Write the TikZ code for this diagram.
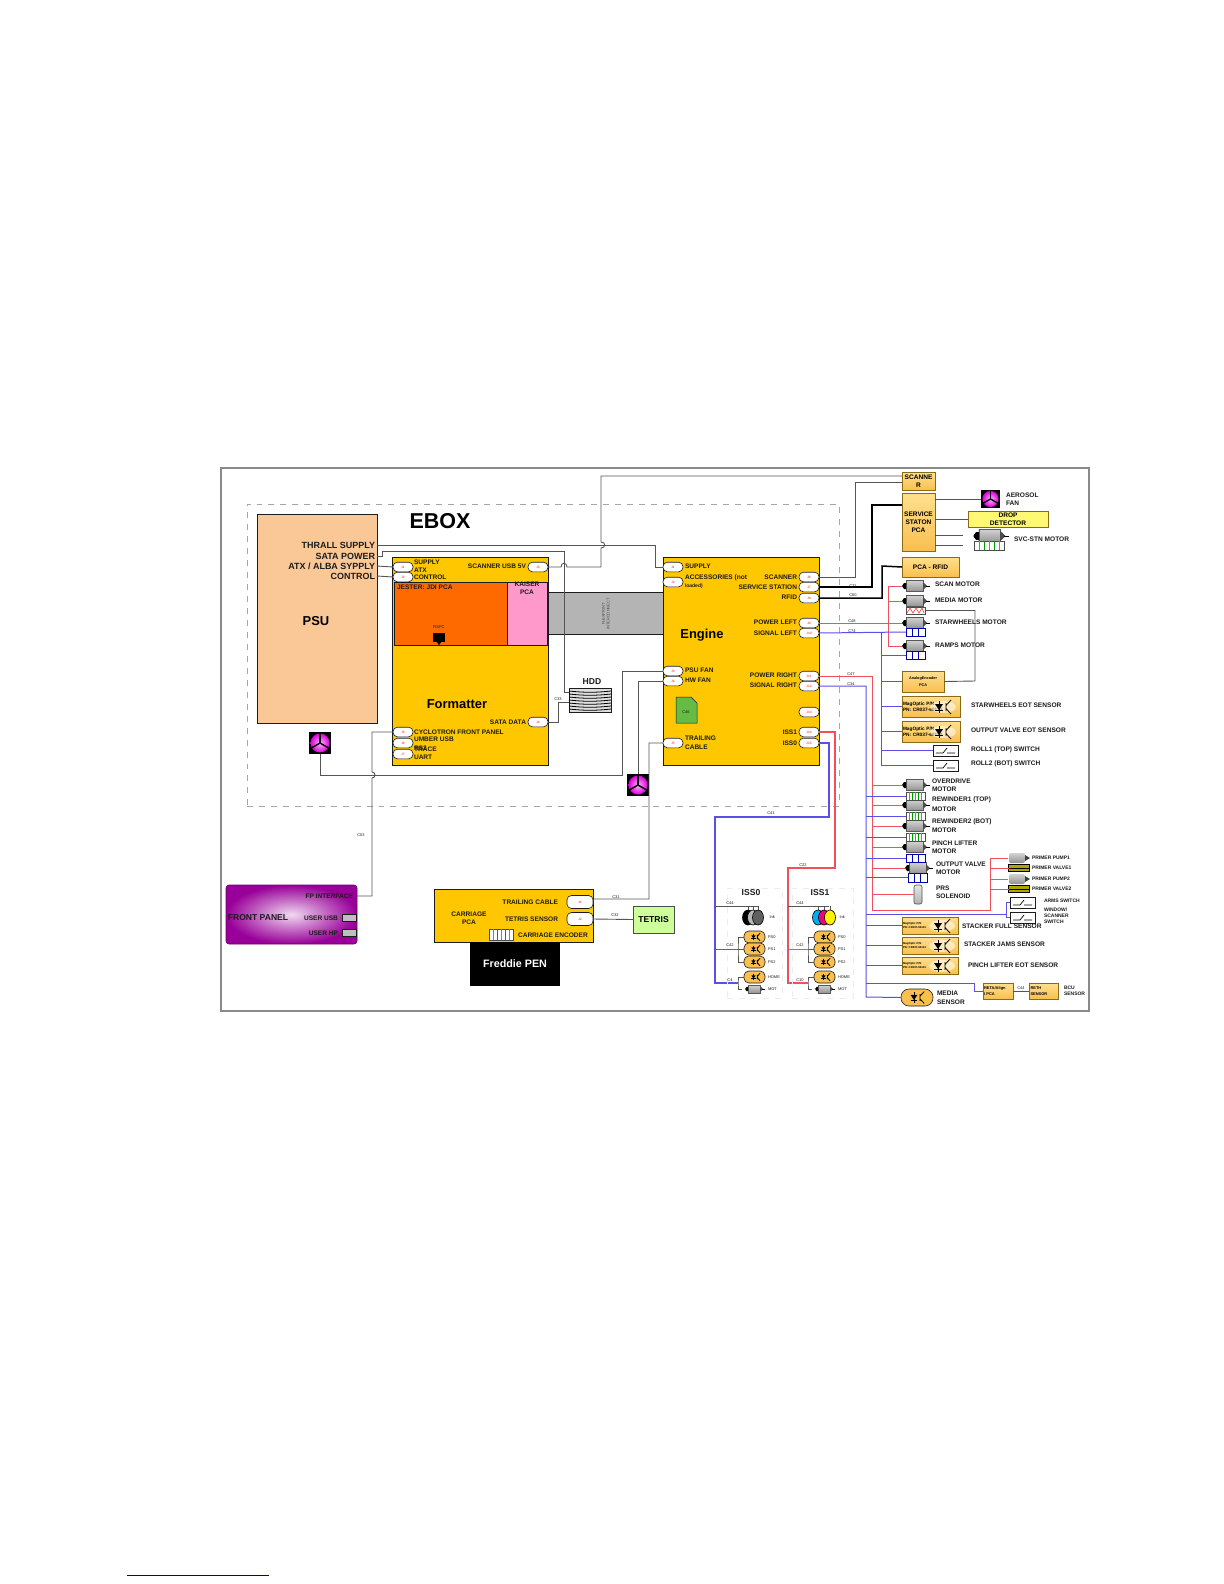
\documentclass[tikz,border=0pt]{standalone}
\usepackage{fontspec}
\setmainfont{Liberation Sans}
\definecolor{psupeach}{HTML}{FAC796}
\definecolor{pcayellow}{HTML}{FFC700}
\definecolor{jesterorange}{HTML}{FF6A00}
\definecolor{kaiserpink}{HTML}{FF99CC}
\definecolor{bandgray}{HTML}{B4B4B4}
\definecolor{framegray}{HTML}{8A8A8A}
\definecolor{wiregray}{HTML}{555555}
\definecolor{redwirec}{HTML}{F0505A}
\definecolor{bluewirec}{HTML}{5A50E6}
\definecolor{fppurple}{HTML}{990099}
\definecolor{tetrisgreen}{HTML}{CCFF99}
\definecolor{docgreen}{HTML}{66BB44}
\definecolor{boxrim}{HTML}{8C6A14}
\definecolor{glowtop}{HTML}{FFE08F}
\definecolor{glowbot}{HTML}{F9BF4F}
\definecolor{inkc}{HTML}{1C1C1C}
% box given by its corners in pixels
\newcommand{\pxbox}[7]{\node[#1, minimum width={(#5-#3)*0.5bp}, minimum height={(#6-#4)*0.5bp}] (#2) at ({(#3+#5)/2},{(#4+#6)/2}) {#7};}
\newcommand{\motoricon}[4][1]{%
  \begin{scope}[shift={(#3,#4)}, scale=#1]
    \node[minimum width=13bp, minimum height=6bp] (#2) at (0,0) {};
    \shade[top color=gray!35, bottom color=gray!85, draw=gray!70!black, line width=0.25bp] (-9,-5.5) rectangle (8,5.5);
    \fill[black] (-13,0) -- (-11,-3) -- (-9,-3) -- (-9,3) -- (-11,3) -- cycle;
    \fill[gray!60!black] (8,-4) -- (12,0) -- (8,4) -- cycle;
    \draw[line width=0.4bp] (11,0) -- (15,0);
  \end{scope}}
\newcommand{\encoderblue}[5]{%
  \pxbox{encbox, draw=blue!70!black}{#1}{#2}{#3}{#4}{#5}{}
  \foreach \k in {1,2} \draw[blue!70!black, line width=0.5bp] ({#2+\k*(#4-#2)/3},#3) -- ({#2+\k*(#4-#2)/3},#5);}
\newcommand{\encoderbar}[5]{%
  \pxbox{encbox, draw=gray!60!black}{#1}{#2}{#3}{#4}{#5}{}
  \foreach \k/\c in {1/red!70,2/green!60!black,3/red!70,4/green!60!black,5/red!70} \draw[\c, line width=0.35bp] ({#2+\k*(#4-#2)/6},#3) -- ({#2+\k*(#4-#2)/6},#5);}
\newcommand{\fanicon}[4][1]{%
  \begin{scope}[shift={(#3,#4)}, scale=#1, transform shape]
    \node[fill=black, minimum size=11bp] (#2) at (0,0) {};
    \shade[inner color=white!70!magenta, outer color=magenta!85!black] (0,0) circle (9.5);
    \foreach \a in {270,150,30} \draw[line width=0.7bp] (0,0) -- ++(\a:10);
  \end{scope}}
\newcommand{\photoicon}[3][1]{%
  \begin{scope}[shift={(#2,#3)}, scale=#1]
    \fill[black] (-4,-3) -- (4,-3) -- (0,3) -- cycle;
    \draw[line width=0.4bp] (-4,3) -- (4,3) (0,-6) -- (0,6);
    \draw[line width=0.4bp] (7,-4) -- (7,4) (12,-7) -- (7,-1.5) (7,1.5) -- (12,7);
  \end{scope}}
\newcommand{\switchicon}[5]{%
  \pxbox{swbox}{#1}{#2}{#3}{#4}{#5}{}
  \draw[line width=0.35bp] ({#2+3},{#5-3}) -- ({#2+10},{#5-3}) -- ({#2+14},{#3+3}) ({#2+14},{#5-3}) -- ({#4-3},{#5-3});}
\begin{document}
\begin{tikzpicture}[
    x=0.5bp, y=-0.5bp,
    every node/.style={inner sep=0pt, outer sep=0pt},
    lbl/.style={font=\fontsize{3.3}{4}\selectfont\bfseries, text=inkc, align=center},
    lbls/.style={font=\fontsize{2.5}{3}\selectfont\bfseries, text=inkc, align=left},
    lblm/.style={font=\fontsize{4.3}{5}\selectfont\bfseries, text=inkc, align=center},
    lblb/.style={font=\fontsize{6.5}{7.5}\selectfont\bfseries, text=black},
    wirelabel/.style={font=\fontsize{2}{2.4}\selectfont, text=inkc},
    pill/.style={draw=inkc, fill=white, line width=0.3bp, rounded corners=2.2bp, minimum width=10bp, minimum height=4.8bp,
      font=\fontsize{1.6}{2}\selectfont, text=red},
    pcabox/.style={draw=inkc, fill=pcayellow, line width=0.3bp},
    pcaglow/.style={draw=boxrim, line width=0.5bp, top color=glowtop, bottom color=glowbot,
      font=\fontsize{3.3}{4}\selectfont\bfseries, align=center},
    encbox/.style={fill=white, line width=0.45bp},
    swbox/.style={draw=inkc, fill=white, line width=0.35bp},
    sensorpill/.style={draw=inkc, fill=glowbot, line width=0.3bp, rounded corners=2.4bp, minimum width=10.5bp, minimum height=6bp},
    wire/.style={draw=wiregray, line width=0.45bp},
    darkwire/.style={draw=black, line width=0.75bp},
    redwire/.style={draw=redwirec, line width=0.5bp},
    bluewire/.style={draw=bluewirec, line width=0.5bp},
  ]
  \useasboundingbox (0,0) rectangle (1224,1584);
  % Outer frame and ebox outline
  \pxbox{draw=framegray, line width=0.7bp}{frame}{221}{468}{1089}{1011}{}
  \pxbox{draw=gray!70, dashed, line width=0.35bp}{ebox}{247}{504}{839}{806}{}
  % Main boards
  \pxbox{draw=inkc, fill=bandgray, line width=0.3bp}{band}{548}{592}{663}{634}{}
  \pxbox{draw=inkc, fill=psupeach, line width=0.3bp}{psu}{257}{514}{377}{723}{}
  \pxbox{pcabox}{formatter}{392}{557}{548}{765}{}
  \pxbox{pcabox}{engine}{663}{557}{819}{765}{}
  \pxbox{draw=inkc, fill=jesterorange, line width=0.4bp}{jester}{394}{582}{507}{645}{}
  \pxbox{draw=inkc, fill=kaiserpink, line width=0.4bp}{kaiser}{507}{582}{547}{645}{}
  \pxbox{draw=inkc, fill=gray!25, line width=0.3bp}{hdd}{569}{688}{611}{712}{}
  \foreach \y in {691,694,...,709} \draw[line width=0.4bp] (569,\y) to[bend right=6] (611,\y);
  \pxbox{draw=inkc, fill=pcayellow, line width=0.3bp}{carriage}{434}{889}{593}{942}{}
  \pxbox{fill=black, text=white, font=\fontsize{5.4}{6}\selectfont\bfseries}{pen}{470}{942}{560}{986}{Freddie PEN}
  \pxbox{draw=gray!60!black, fill=tetrisgreen, line width=0.4bp, font=\fontsize{4.3}{5}\selectfont\bfseries}{tetris}{633}{906}{674}{933}{TETRIS}
  \pxbox{draw=fppurple!70!black, inner color=white!85!fppurple, outer color=fppurple, rounded corners=1.5bp, line width=0.3bp}{fpanel}{226}{885}{357}{944}{}
  \foreach \n/\y in {portUsb/918, portHp/933} \pxbox{draw=inkc, fill=gray!50, line width=0.25bp}{\n}{342}{(\y-3.5)}{356}{(\y+3.5)}{}
  % Jack and spec card
  \node[fill=black, minimum width=6bp, minimum height=4.5bp] (jack) at (439,637) {};
  \fill[black] (436,641) -- (442,641) -- (439,645) -- cycle;
  \node[wirelabel] (jackName) at (439,627) {RSPC};
  \fill[docgreen, draw=inkc, line width=0.25bp] (676,697) -- (691,697) -- (697,703) -- (697,723) -- (676,723) -- cycle;
  \node[wirelabel] (docName) at (686,712) {C46};
  \node[wirelabel, rotate=90, align=center, text=black!70] (bandName) at (606,614) {FLEXPRINT\\INTERCONNECT};
  % Connector pills
  \foreach \n/\x/\y/\t in {pSupply/403/567/J1, pControl/403/577/J2, pUsbFive/538/567/J3, pSataData/538/722/J4,
      pCyclo/403/732/J5, pUmber/403/743/J6, pTrace/403/754/J7,
      pEnSupply/673/567/J1, pAccess/673/582/J2, pPsuFan/673/671/J3, pHwFan/673/681/J4, pTrailing/673/743/J5,
      pScanner/809/577/J6, pService/809/587/J7, pRfid/809/598/J8, pPowLeft/809/623/J9, pSigLeft/809/633/J10,
      pPowRight/809/676/J11, pSigRight/809/686/J12, pSpare/809/712/J13, pIssOne/809/732/J14, pIssZero/809/743/J15}
    \node[pill] (\n) at (\x,\y) {\t};
  \foreach \n/\y/\t in {pCarTrail/902/J1, pCarTetris/919/J2}
    \node[pill, minimum width=13bp, minimum height=6.5bp] (\n) at (580,\y) {\t};
  % Service side boxes
  \pxbox{pcaglow}{boxScanner}{902}{472}{935}{490}{SCANNE\\R}
  \pxbox{pcaglow}{boxService}{902}{493}{935}{551}{SERVICE\\STATON\\PCA}
  \pxbox{pcaglow}{boxRfid}{902}{557}{959}{577}{PCA - RFID}
  \pxbox{draw=boxrim, line width=0.5bp, fill=yellow!55, font=\fontsize{3.3}{4}\selectfont\bfseries, align=center}{boxDrop}{968}{511}{1048}{527}{DROP\\DETECTOR}
  \pxbox{pcaglow, font=\fontsize{1.9}{3.4}\selectfont\bfseries}{boxAnalog}{902}{671}{944}{692}{AnalogEncoder\\PCA}
  \pxbox{pcaglow, font=\fontsize{2.4}{3.2}\selectfont\bfseries, align=left, text width=28bp}{magStar}{902}{696}{960}{717}{MagOptic P/N\\PN: CR037-60113}
  \pxbox{pcaglow, font=\fontsize{2.4}{3.2}\selectfont\bfseries, align=left, text width=28bp}{magOut}{902}{721}{960}{742}{MagOptic P/N\\PN: CR037-60113}
  \foreach \n/\a/\b in {stackFull/917/934, stackJams/937/954, pinchEot/957/974}
    \pxbox{pcaglow, font=\fontsize{1.4}{2}\selectfont\bfseries, align=left, text width=27bp}{\n}{902}{\a}{958}{\b}{MagOptic P/N\\PN: CR037-60113};
  \pxbox{pcaglow, font=\fontsize{2}{3}\selectfont\bfseries, align=left, text width=14bp}{boxReta}{983}{983}{1013}{999}{RETA/Align\\I PCA}
  \pxbox{pcaglow, font=\fontsize{2}{3}\selectfont\bfseries, align=left, text width=13bp}{boxReth}{1029}{983}{1058}{999}{RETH\\SENSOR}
  \foreach \x/\y in {939/707, 939/732, 938/926, 938/946, 938/966} {
    \fill[white, opacity=0.55] (\x+4,\y) ellipse (13 and 6);
    \photoicon{\x}{\y}
  }
  \node[draw=inkc, fill=glowbot, line width=0.3bp, rounded corners=4bp, minimum width=16bp, minimum height=8.5bp] (mediaSensor) at (917,997.5) {};
  \photoicon[0.85]{914}{997.5}
  % Fans
  \fanicon{fanPsu}{320}{743}
  \fanicon{fanHw}{638}{785}
  \fanicon[0.85]{fanAero}{990.5}{499}
  % Motors and their encoders
  \foreach \n/\x/\y in {motScan/915/586, motMedia/915/601, motStar/915/623, motRamps/915/646,
      motOver/915/785, motRewA/915/805, motRewB/915/826, motPinch/915/847, motValve/918/868}
    \motoricon{\n}{\x}{\y}
  \motoricon[1.25]{motSvc}{990}{536}
  \pxbox{encbox, draw=gray!60!black}{encMedia}{906}{607}{925}{614}{}
  \draw[red!70, line width=0.35bp] (907,613) -- (910,608) -- (913,613) -- (916,608) -- (919,613) -- (922,608) -- (924,613);
  \encoderbar{encSvc}{974}{541}{1004}{550}
  \encoderbar{encOver}{906}{792}{925}{800}
  \encoderbar{encRewA}{906}{812}{925}{820}
  \encoderbar{encRewB}{906}{833}{925}{841}
  \encoderblue{encStar}{906}{628}{925}{636}
  \encoderblue{encRamps}{906}{651}{925}{659}
  \encoderblue{encPinch}{906}{854}{925}{862}
  \encoderblue{encValve}{908}{873}{927}{882}
  \node[draw=gray!60!black, top color=gray!20, bottom color=gray!60, rounded corners=1bp, line width=0.3bp, minimum width=4bp, minimum height=9.5bp] (solenoid) at (918,894.5) {};
  \encoderbar{encCarriage}{489}{929}{513}{940}
  % Switches
  \switchicon{swRollA}{933}{745}{958}{756}
  \switchicon{swRollB}{933}{760}{958}{771}
  \switchicon{swArms}{1010}{897}{1035}{908}
  \switchicon{swWindow}{1010}{912}{1035}{923}
  % Primer pumps and valves
  \foreach \n/\y in {pumpA/858, pumpB/879} {
    \node[minimum width=11bp, minimum height=5bp] (\n) at (1019,\y) {};
    \shade[top color=gray!35, bottom color=gray!85, rounded corners=1bp] (1009,\y-5) rectangle (1025,\y+5);
    \fill[gray!50!black] (1025,\y-3) -- (1030,\y) -- (1025,\y+3) -- cycle;
  }
  \foreach \n/\y in {valveA/868, valveB/889} {
    \node[draw=black, fill=olive!70!yellow, line width=0.4bp, minimum width=10.5bp, minimum height=3.6bp] (\n) at (1019,\y) {};
    \draw[line width=0.5bp] (1009,\y) -- (1029,\y);
  }
  % Wires on the formatter and engine side
  \coordinate (psuThrall) at (377,545);
  \coordinate (psuSata) at (377,556);
  \coordinate (psuAtx) at (377,566);
  \coordinate (psuCtl) at (377,576);
  \coordinate (thrallTurn) at (655,545);
  \coordinate (sataTurn) at (564,551);
  \coordinate (sataJog) at (382,551);
  \coordinate (dataTurn) at (558,702);
  \coordinate (usbTurn) at (601,476);
  \coordinate (cycloTurn) at (372,896);
  \coordinate (fpEnd) at (357,896);
  \coordinate (psuFanTurn) at (622,775);
  \coordinate (trailTurn) at (649,899);
  \draw[wire] (psuThrall) -- (thrallTurn) |- (pEnSupply.west);
  \draw[wire] (psuSata) -- (382,556) -- (sataJog) -- (sataTurn) |- ([yshift=4bp]hdd.west);
  \draw[wire] (psuAtx) -- (pSupply.west);
  \draw[wire] (psuCtl) -- (pControl.west);
  \draw[wire] (pUsbFive.east) -- (561,567) .. controls (561,562) and (567,562) .. (567,567) -- (601,567) -- (601,548)
    .. controls (606,548) and (606,542) .. (601,542) -- (usbTurn) -- ([yshift=2.5bp]boxScanner.west);
  \draw[wire] (pSataData.east) -| (dataTurn) -- (hdd.west |- dataTurn);
  \draw[wire] (pCyclo.west) -- (372,732) -- (372,772) .. controls (376,772) and (376,778) .. (372,778) -- (cycloTurn) -- (fpEnd);
  \draw[wire] (fanPsu.south) |- (psuFanTurn) |- (pPsuFan.west);
  \draw[wire] (fanHw.north) |- (pHwFan.west);
  \draw[wire] (pTrailing.west) -| (trailTurn) -- ([yshift=1.5bp]pCarTrail.east);
  \draw[wire] (pCarTetris.east) -- (tetris.west);
  % Wires to the service side
  \coordinate (scanTurn) at (855,482);
  \coordinate (svcTurn) at (872,505);
  \coordinate (rfidTurn) at (882,566);
  \coordinate (analogTurn) at (975,681);
  \coordinate (svcWireA) at (963,535);
  \coordinate (svcWireB) at (963,545);
  \draw[wire] (pScanner.east) -| (scanTurn) -- (boxScanner.west |- scanTurn);
  \draw[darkwire] (pService.east) -| (svcTurn) -- (boxService.west |- svcTurn);
  \draw[darkwire] (pRfid.east) -| (rfidTurn) -- (boxRfid.west);
  \draw[wire] (boxService.east |- fanAero.west) -- (fanAero.west);
  \draw[wire] (boxService.east |- boxDrop.west) -- (boxDrop.west);
  \draw[wire] (boxService.east |- svcWireA) -- (svcWireA);
  \draw[wire] (boxService.east |- svcWireB) -- (svcWireB);
  \draw[wire] (encMedia.east) -| (analogTurn) -- (boxAnalog.east);
  % Red and blue trunks, left side
  \coordinate (trunkPL) at (888,623);
  \coordinate (trunkSL) at (881,633);
  \draw[redwire] (pPowLeft.east) -- (motStar.west);
  \draw[redwire] (trunkPL |- motScan.west) -- (trunkPL |- motRamps.west);
  \foreach \n in {motScan, motMedia, motRamps} \draw[redwire] (trunkPL |- \n.west) -- (\n.west);
  \draw[bluewire] (pSigLeft.east) -- (encStar.west);
  \draw[bluewire] (trunkSL) -- (trunkSL |- swRollB.west);
  \foreach \n in {encRamps, boxAnalog, magStar, magOut, swRollA, swRollB} \draw[bluewire] (trunkSL |- \n.west) -- (\n.west);
  % Red and blue trunks, right side
  \coordinate (trunkPR) at (872,910);
  \coordinate (primerRiser) at (990,910);
  \coordinate (trunkSR) at (866,997);
  \coordinate (retaTurn) at (974,983);
  \coordinate (switchJoin) at (1006,914);
  \draw[redwire] (pPowRight.east) -| (trunkPR) -- (primerRiser) |- (pumpA.west);
  \foreach \n in {motOver, motRewA, motRewB, motPinch, motValve, solenoid} \draw[redwire] (trunkPR |- \n.west) -- (\n.west);
  \foreach \n in {pumpA, pumpB, valveA, valveB} \draw[redwire] (primerRiser |- \n.west) -- (\n.west);
  \draw[bluewire] (pSigRight.east) -| (trunkSR) -- (mediaSensor.west);
  \foreach \n in {encOver, encRewA, encRewB, encPinch, encValve, stackFull, stackJams, pinchEot} \draw[bluewire] (trunkSR |- \n.west) -- (\n.west);
  \draw[bluewire] (trunkSR |- switchJoin) -- (switchJoin);
  \draw[bluewire] (swArms.west) -| (switchJoin) |- (swWindow.west);
  \draw[bluewire] (trunkSR |- retaTurn) -- (retaTurn) |- (boxReta.west);
  \draw[wire] (boxReta.east) -- (boxReth.west);
  % ISS cartridge groups
  \coordinate (issRedA) at (835,868);
  \coordinate (issRedB) at (788,868);
  \coordinate (issRedC) at (788,983);
  \coordinate (issBlueA) at (829,817);
  \coordinate (issBlueB) at (715,817);
  \coordinate (issBlueC) at (715,983);
  \draw[redwire, line width=0.6bp] (pIssOne.east) -| (issRedA) -- (issRedB) -- (issRedC) -- (808,983);
  \draw[bluewire, line width=0.6bp] (pIssZero.east) -| (issBlueA) -- (issBlueB) -- (issBlueC) -- (738,983);
  \foreach \s/\tk/\br/\pl/\col/\xa/\xb in {0/715/738/754.5/bluewire/727/782, 1/788/808/824.5/redwire/792/853} {
    \pxbox{draw=gray!15, dashed, line width=0.25bp}{issZone\s}{\xa}{888}{\xb}{998}{}
    \coordinate (brkP\s) at (\br,949);
    \coordinate (brkH\s) at (\br,983);
    \foreach \k/\y/\t in {a/937/PS0, b/949/PS1, c/962/PS2, h/977/HOME} {
      \node[sensorpill] (ph\s\k) at (\pl,\y) {};
      \photoicon[0.55]{\pl-1}{\y}
      \node[wirelabel, anchor=west] (phName\s\k) at (\pl+13.5,\y) {\t};
    }
    \motoricon[0.72]{issMot\s}{\pl}{989}
    \node[wirelabel, anchor=west] (motName\s) at (\pl+13.5,989) {MOT};
    \node[wirelabel, anchor=west] (inkName\s) at (\pl+15,917) {Ink};
    \draw[\col] (\tk,949) -- (brkP\s);
    \draw[wire] (\tk,906) -- (\pl+4,906);
    \draw[wire] (ph\s a.west) -| (brkP\s) |- (ph\s c.west);
    \draw[wire] (ph\s b.west) -- (brkP\s);
    \draw[wire] (ph\s h.west) -| (brkH\s) |- (issMot\s.west);
  }
  \foreach \x/\c in {748/black, 753/gray!55, 758/gray!75!black, 818/cyan, 824/magenta!85!red, 830/yellow} {
    \draw[wire] (\x,906) -- (\x,911);
    \fill[\c, draw=black, line width=0.3bp] (\x,917.5) ellipse (5.5 and 7.5);
  }
  % Titles
  \foreach \n/\x/\y/\t in {tEbox/440/521/EBOX} \node[font=\fontsize{10.8}{12}\selectfont\bfseries] (\n) at (\x,\y) {\t};
  \foreach \n/\x/\y/\t in {tPsu/316/621/PSU, tFormatter/457/704/Formatter, tEngine/702/635/Engine} \node[lblb] (\n) at (\x,\y) {\t};
  \foreach \n/\x/\y/\t in {tHdd/592/682/HDD, tIssZero/751/893/ISS0, tIssOne/820/893/ISS1, tFront/258/918/FRONT PANEL} \node[lblm] (\n) at (\x,\y) {\t};
  % Labels ending at a right edge
  \foreach \n/\x/\y/\t in {lThrall/375/545/THRALL SUPPLY, lSata/375/556/SATA POWER, lAtx/375/566/{ATX / ALBA SYPPLY}, lCtl/375/576/CONTROL}
    \node[font=\fontsize{4.5}{5}\selectfont\bfseries, text=inkc, anchor=east] (\n) at (\x,\y) {\t};
  \foreach \n/\x/\y/\t in {lUsbFive/526/566/SCANNER USB 5V, lDataSata/526/722/SATA DATA,
      lScanner/797/577/SCANNER, lService/797/587/SERVICE STATION, lRfid/797/597.5/RFID, lPowLeft/797/622/POWER LEFT, lSigLeft/797/633/SIGNAL LEFT,
      lPowRight/797/675.5/POWER RIGHT, lSigRight/797/685.5/SIGNAL RIGHT, lIssOne/797/732/ISS1, lIssZero/797/743/ISS0,
      lFpIface/353/896/FP INTERFACE, lFpUsb/338/918/USER USB, lFpHp/338/933/USER HP,
      lCarTrail/558/902/TRAILING CABLE, lCarTetris/558/919/TETRIS SENSOR}
    \node[lbl, anchor=east] (\n) at (\x,\y) {\t};
  % Labels starting at a left edge
  \foreach \n/\x/\y/\t in {lSupply/414/562/SUPPLY, lAtxIn/414/570/ATX, lControl/414/577/CONTROL,
      lCyclo/414/732/CYCLOTRON FRONT PANEL, lUmber/414/739/UMBER USB, lRsTwo/414/748/RS2, lTrace/414/749.5/TRACE, lUart/414/757/UART,
      lEnSupply/685/566/SUPPLY, lAccess/685/578/ACCESSORIES (not, lPsuFan/685/670/PSU FAN, lHwFan/685/680/HW FAN, lTrailA/685/738/TRAILING, lTrailB/685/747/CABLE,
      lAeroA/1006/495/AEROSOL, lAeroB/1006/503/FAN, lSvc/1014/539/SVC-STN MOTOR,
      lScan/935/584/SCAN MOTOR, lMedia/935/600/MEDIA MOTOR, lStar/935/622/STARWHEELS MOTOR, lRamps/935/645/RAMPS MOTOR,
      lStarEot/971/705.5/STARWHEELS EOT SENSOR, lValveEot/971/730/OUTPUT VALVE EOT SENSOR, lRollA/971/750/ROLL1 (TOP) SWITCH, lRollB/971/764/ROLL2 (BOT) SWITCH,
      lOverA/932/781/OVERDRIVE, lOverB/932/789.5/MOTOR, lRewAa/932/800/REWINDER1 (TOP), lRewAb/932/809/MOTOR, lRewBa/932/822/REWINDER2 (BOT), lRewBb/932/830/MOTOR,
      lPinchA/932/843/PINCH LIFTER, lPinchB/932/851/MOTOR, lValveA/936/864/OUTPUT VALVE, lValveB/936/872/MOTOR, lPrsA/936/888/PRS, lPrsB/936/896/SOLENOID,
      lStackFull/962/926/STACKER FULL SENSOR, lStackJams/964/944/STACKER JAMS SENSOR, lPinchEot/968/965/PINCH LIFTER EOT SENSOR,
      lMediaA/937/993/MEDIA, lMediaB/937/1002/SENSOR, lCarEnc/518/935/CARRIAGE ENCODER,
      lJester/397/587/JESTER: JDI PCA}
    \node[lbl, anchor=west] (\n) at (\x,\y) {\t};
  \node[lbls, anchor=west] (lLoaded) at (685,586) {loaded)};
  \node[lbl] (lKaiser) at (527,588) {KAISER\\PCA};
  \node[lbl] (lCarriage) at (469,918) {CARRIAGE\\PCA};
  \foreach \n/\x/\y/\t in {lPumpA/1032/858/PRIMER PUMP1, lValA/1032/868/PRIMER VALVE1, lPumpB/1032/879/PRIMER PUMP2, lValB/1032/889/PRIMER VALVE2,
      lArms/1044/901/ARMS SWITCH, lWindow/1044/910/{WINDOW/}, lWinScan/1044/916/SCANNER, lWinSw/1044/922/SWITCH, lBcuA/1064/988/BCU, lBcuB/1064/993.5/SENSOR}
    \node[lbls, anchor=west] (\n) at (\x,\y) {\t};
  % Small cable labels
  \foreach \n/\x/\y/\t in {cOne/853/586/C71, cTwo/853/595/C60, cThree/852/621/C48, cFour/852/631/C74, cFive/851/674/C47, cSix/851/684/C34,
      cSeven/558/699/C33, cEight/361/835/C03, cNine/616/897/C31, cTen/615/915/C32, cEleven/771/813/C41, cTwelve/803/865/C22,
      cIssA/730/903/C44, cIssB/730/945/C42, cIssC/730/980/C4, cIssD/800/903/C44, cIssE/800/945/C42, cIssF/800/980/C10, cReta/1021/988/C44}
    \node[wirelabel] (\n) at (\x,\y) {\t};
  % Rule at the foot of the page
  \coordinate (ruleStart) at (127,1575);
  \coordinate (ruleEnd) at (269,1575);
  \draw[blue!60!black, line width=0.5bp] (ruleStart) -- (ruleEnd);
\end{tikzpicture}
\end{document}
